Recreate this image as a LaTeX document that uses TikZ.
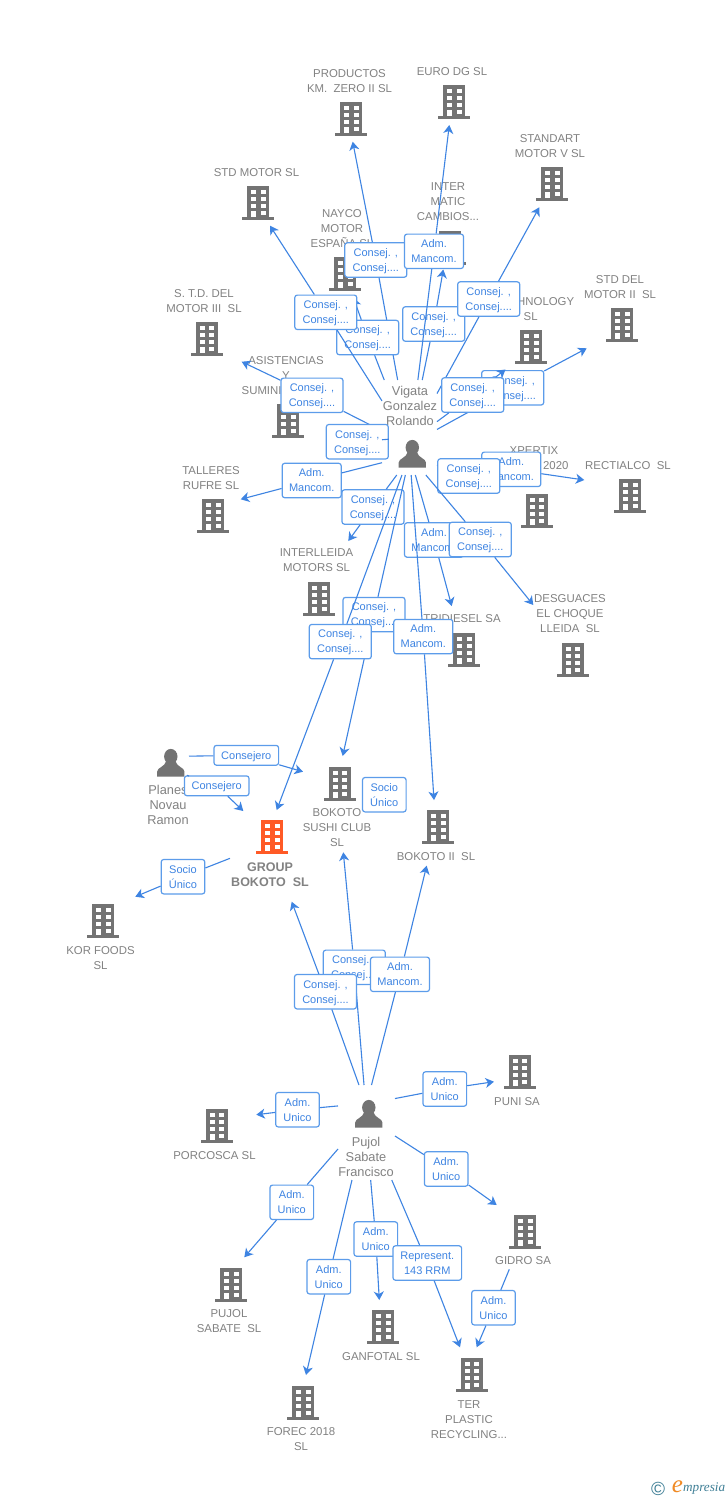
\documentclass[tikz,border=0pt]{standalone}
\usepackage{fontspec}
\setmainfont{Liberation Sans}
\newfontfamily\logofont{Liberation Serif}
\usetikzlibrary{arrows.meta}

\definecolor{icongray}{HTML}{737373}
\definecolor{textgray}{HTML}{828282}
\definecolor{mainorange}{HTML}{FF5A26}
\definecolor{linkblue}{HTML}{3E84E2}
\definecolor{boxblue}{HTML}{5C9CEA}
\definecolor{logoteal}{HTML}{3F7F96}
\definecolor{logoorange}{HTML}{F08A24}

\tikzset{
  company/.style={text=textgray, inner sep=0pt, yshift=-1pt, align=center, font=\fontsize{11.4}{15}\selectfont},
  personname/.style={text=textgray, inner sep=0pt, align=center, font=\fontsize{12.8}{15}\selectfont},
  personarea/.style={inner sep=0pt, outer sep=0pt},
  rolebox/.style={draw=boxblue, line width=1.2pt, rounded corners=2.5pt, fill=white, text=linkblue,
    inner sep=0pt, minimum height=34.4pt, text height=25pt, text depth=2.4pt, align=center, font=\fontsize{11}{15}\selectfont},
  consej/.style={rolebox, minimum width=62pt},
  mancom/.style={rolebox, minimum width=59pt},
  unico/.style={rolebox, minimum width=43.6pt},
  consejero/.style={rolebox, minimum width=64.6pt, minimum height=19.8pt, text height=10pt},
  link/.style={draw=linkblue, line width=1.1pt, -{Stealth[length=8.5pt,width=10pt,inset=2.5pt]}},
  plainlink/.style={draw=linkblue, line width=1.1pt},
  bldg/.pic={
    \fill[pic actions] (-11,0) rectangle (11,31);
    \fill[pic actions] (-16,31) rectangle (16,34);
    \foreach \wy in {4,11,18} {
      \fill[white] (-7,\wy) rectangle (-2,\wy+4);
      \fill[white] (2.5,\wy) rectangle (7.5,\wy+4);
    }
    \fill[white] (-7,25) rectangle (-2,31);
    \fill[white] (2.5,25) rectangle (7.5,29);
  },
  person/.pic={
    \fill[icongray] (0,7.5) ellipse (6.7 and 7.6);
    \fill[icongray] (-13.6,27.7) -- (-13.6,22.5) .. controls (-13.6,18.5) and (-6,18) .. (-4.5,12)
      -- (4.5,12) .. controls (6,18) and (13.6,18.5) .. (13.6,22.5) -- (13.6,27.7) -- cycle;
  },
}

\begin{document}
\begin{tikzpicture}[x=1pt,y=-1pt]
  \useasboundingbox (0,0) rectangle (728,1500);
  \fill[white] (0,0) rectangle (728,1500);

  % Companies - icon and name
  \pic[icongray] at (351,102) {bldg};
  \node[company] (productos) at (349.5,80.5) {PRODUCTOS\\KM.~ ZERO II SL};
  \pic[icongray] at (454,85) {bldg};
  \node[company] (euro) at (452,71) {EURO DG SL};
  \pic[icongray] at (552,166.7) {bldg};
  \node[company] (standart) at (550,145.5) {STANDART\\MOTOR V SL};
  \pic[icongray] at (258,186) {bldg};
  \node[company] (stdmotor) at (256.5,172) {STD MOTOR SL};
  \pic[icongray] at (450,231) {bldg};
  \node[company] (inter) at (448,201) {INTER\\MATIC\\CAMBIOS...};
  \pic[icongray] at (345,256.7) {bldg};
  \node[company] (nayco) at (342,228) {NAYCO\\MOTOR\\ESPAÑA SL};
  \pic[icongray] at (206.7,322) {bldg};
  \node[company] (stdthree) at (204,300.5) {S. T.D. DEL\\MOTOR III~ SL};
  \pic[icongray] at (531,330) {bldg};
  \node[company] (technology) at (530.7,308.5) {\hspace*{30pt}HNOLOGY\\SL};
  \pic[icongray] at (622,308) {bldg};
  \node[company] (stdtwo) at (620,286.5) {STD DEL\\MOTOR II~ SL};
  \pic[icongray] at (288,404) {bldg};
  \node[company] (asistencias) at (286,375) {ASISTENCIAS\\Y\\SUMINI\phantom{STROS...}};
  \pic[icongray] at (213,499) {bldg};
  \node[company] (talleres) at (211,477.5) {TALLERES\\RUFRE SL};
  \pic[icongray] at (319,581.7) {bldg};
  \node[company] (interlleida) at (316.5,559.5) {INTERLLEIDA\\MOTORS SL};
  \pic[icongray] at (536.5,494) {bldg};
  \node[company] (xpertix) at (534,457.5) {XPERTIX\\\hspace*{43.5pt}2020};
  \pic[icongray] at (630,479) {bldg};
  \node[company] (rectialco) at (628,465) {RECTIALCO~ SL};
  \pic[icongray] at (464,632.7) {bldg};
  \node[company] (tridiesel) at (462,618) {TRIDIESEL SA};
  \pic[icongray] at (572.5,642.7) {bldg};
  \node[company] (desguaces) at (570,613) {DESGUACES\\EL CHOQUE\\LLEIDA~ SL};
  \pic[icongray] at (339.5,766.7) {bldg};
  \node[company] (sushi) at (337,827) {BOKOTO\\SUSHI CLUB\\SL};
  \pic[icongray] at (438,810) {bldg};
  \node[company] (bokototwo) at (436,856) {BOKOTO II~ SL};
  \pic[mainorange] at (272,820) {bldg};
  \node[company, font=\fontsize{12.5}{15}\selectfont\bfseries] (group) at (270,873.5) {GROUP\\BOKOTO~ SL};
  \pic[icongray] at (103,904) {bldg};
  \node[company] (kor) at (100.5,957.5) {KOR FOODS\\SL};
  \pic[icongray] at (519.5,1055) {bldg};
  \node[company] (puni) at (517,1101) {PUNI SA};
  \pic[icongray] at (216.8,1109) {bldg};
  \node[company] (porcosca) at (214.5,1155) {PORCOSCA SL};
  \pic[icongray] at (231,1267.7) {bldg};
  \node[company] (pujolsl) at (229,1320.5) {PUJOL\\SABATE~ SL};
  \pic[icongray] at (383,1310) {bldg};
  \node[company] (ganfotal) at (381,1356) {GANFOTAL SL};
  \pic[icongray] at (303,1385.7) {bldg};
  \node[company] (forec) at (301,1438.5) {FOREC 2018\\SL};
  \pic[icongray] at (471.5,1358) {bldg};
  \node[company] (ter) at (469,1419) {TER\\PLASTIC\\RECYCLING...};
  \pic[icongray] at (525,1214.7) {bldg};
  \node[company] (gidro) at (523,1260) {GIDRO SA};

  % People - icon and name
  \pic at (412.3,440) {person};
  \node[personname] (vigataname) at (410,406) {Vigata\\Gonzalez\\Rolando};
  \node[personarea, minimum width=55pt, minimum height=95pt] (vigata) at (409.5,427.5) {};
  \pic at (170.8,749) {person};
  \node[personname] (planesname) at (168,805) {Planes\\Novau\\Ramon};
  \node[personarea, minimum width=36pt, minimum height=28pt] (planes) at (171,762) {};
  \pic at (368.8,1100) {person};
  \node[personname] (pujolname) at (366,1156.5) {Pujol\\Sabate\\Francisco};
  \node[personarea, minimum width=57pt, minimum height=95pt] (pujol) at (366.5,1132.5) {};

  % Arrow ends next to the companies
  \coordinate (tipproductos) at (352.7,141.7);
  \coordinate (tipeuro) at (449.3,125);
  \coordinate (tipstandart) at (539.3,207.3);
  \coordinate (tipstdmotor) at (270,225.7);
  \coordinate (tipinter) at (443.3,269.5);
  \coordinate (tipnayco) at (353.5,298);
  \coordinate (tipstdthree) at (241.7,361.7);
  \coordinate (tiptechnology) at (505.5,369.5);
  \coordinate (tipstdtwo) at (586.7,348.3);
  \coordinate (tiptalleres) at (240.7,499.3);
  \coordinate (tipinterlleida) at (348.3,541);
  \coordinate (tiprectialco) at (584.3,480);
  \coordinate (tiptridiesel) at (451.7,606);
  \coordinate (tipdesguaces) at (533.3,605);
  \coordinate (tipsushitop) at (342.7,756);
  \coordinate (tipbokototop) at (434,800);
  \coordinate (tipgrouptop) at (276.7,810);
  \coordinate (tipplanessushi) at (303,771.7);
  \coordinate (tipplanesgroup) at (243.3,811);
  \coordinate (tipkor) at (135.3,896.7);
  \coordinate (tipgroupdown) at (291.7,901.7);
  \coordinate (tipsushidown) at (343.3,852.3);
  \coordinate (tipbokotodown) at (426.7,865.7);
  \coordinate (tippuni) at (494,1081.7);
  \coordinate (tipporcosca) at (256.3,1114.7);
  \coordinate (tipgidro) at (496.7,1205);
  \coordinate (tippujolsl) at (244.3,1257.3);
  \coordinate (tipforec) at (306,1375);
  \coordinate (tipganfotal) at (379.3,1300);
  \coordinate (tipterone) at (460,1347.3);
  \coordinate (tiptertwo) at (476.7,1347.3);
  \coordinate (gidrofoot) at (509.3,1269.3);
  \coordinate (groupside) at (230,858.3);

  % Vigata Gonzalez Rolando - upper side
  \node[consej] (rproductos) at (375.8,260) {Consej. ,\\Consej....};
  \draw[link] (vigata.104) -- (rproductos) -- (tipproductos);
  \node[consej] (rinter) at (433.7,324) {Consej. ,\\Consej....};
  \draw[link] (vigata.75) -- (rinter) -- (tipinter);
  \node[mancom] (reuro) at (434,251.3) {Adm.~\\Mancom.};
  \draw[link] (vigata.80) -- (reuro) -- (tipeuro);
  \node[consej] (rnayco) at (367.7,337.5) {Consej. ,\\Consej....};
  \draw[link] (vigata.118) -- (rnayco) -- (tipnayco);
  \node[consej] (rstdmotor) at (325.8,312.3) {Consej. ,\\Consej....};
  \draw[link] (vigata.136) -- (rstdmotor) -- (tipstdmotor);
  \node[consej] (rstandart) at (488.7,299) {Consej. ,\\Consej....};
  \draw[link] (vigata.51) -- (rstandart) -- (tipstandart);
  \node[consej] (rstdtwo) at (512.7,387.8) {Consej. ,\\Consej....};
  \draw[link] (vigata.-4) -- (rstdtwo) -- (tipstdtwo);
  \node[consej] (rtechnology) at (472.7,395) {Consej. ,\\Consej....};
  \draw[link] (vigata.12) -- (rtechnology) -- (tiptechnology);
  \node[consej] (rstdthree) at (312,395.3) {Consej. ,\\Consej....};
  \draw[link] (vigata.187) -- (rstdthree) -- (tipstdthree);
  \node[consej] (rasistencias) at (357.3,441.7) {Consej. ,\\Consej....};
  \draw[plainlink] (vigata.204) -- (rasistencias);

  % Vigata Gonzalez Rolando - lower side
  \node[mancom] (rtalleres) at (311.7,480.5) {Adm.~\\Mancom.};
  \draw[link] (vigata.232) -- (rtalleres) -- (tiptalleres);
  \node[mancom] (rrectialco) at (511.3,469.3) {Adm.~\\Mancom.};
  \draw[link] (vigata.303) -- (rrectialco) -- (tiprectialco);
  \node[consej] (rxpertix) at (468.8,476) {Consej. ,\\Consej....};
  \draw[plainlink] (vigata.306) -- (rxpertix);
  \node[consej] (rinterlleida) at (373,507) {Consej. ,\\Consej....};
  \draw[link] (vigata.255) -- (rinterlleida) -- (tipinterlleida);
  \node[mancom] (rtridiesel) at (434,540) {Adm.~\\Mancom.};
  \draw[link] (vigata.277) -- (rtridiesel) -- (tiptridiesel);
  \node[consej] (rdesguaces) at (480.3,539.5) {Consej. ,\\Consej....};
  \draw[link] (vigata.289) -- (rdesguaces) -- (tipdesguaces);
  \node[consej] (rsushitop) at (374,614.6) {Consej. ,\\Consej....};
  \draw[link] (vigata.265) -- (rsushitop) -- (tipsushitop);
  \node[consej] (rgrouptop) at (340.3,641.6) {Consej. ,\\Consej....};
  \draw[link] (vigata.261) -- (rgrouptop) -- (tipgrouptop);
  \node[mancom] (rbokototop) at (423.3,636.6) {Adm.~\\Mancom.};
  \draw[link] (vigata.272) -- (rbokototop) -- (tipbokototop);

  % Planes Novau Ramon and Group Bokoto
  \node[consejero] (rplanessushi) at (246.3,755.3) {Consejero};
  \draw[link] (planes.18) -- (rplanessushi) -- (tipplanessushi);
  \node[consejero] (rplanesgroup) at (216.7,785.8) {Consejero};
  \draw[link] (planes.south east) -- (rplanesgroup) -- (tipplanesgroup);
  \node[unico] (rsocio) at (384.3,794.7) {Socio\\Único};
  \node[unico] (rkor) at (183,876.7) {Socio\\Único};
  \draw[link] (groupside) -- (rkor) -- (tipkor);

  % Pujol Sabate Francisco - upper side
  \node[consej] (rsushidown) at (354.3,967.3) {Consej. ,\\Consej....};
  \draw[link] (pujol.93) -- (rsushidown) -- (tipsushidown);
  \node[consej] (rgroupdown) at (325.5,991.7) {Consej. ,\\Consej....};
  \draw[link] (pujol.99) -- (rgroupdown) -- (tipgroupdown);
  \node[mancom] (rbokotodown) at (400,974.3) {Adm.~\\Mancom.};
  \draw[link] (pujol.84) -- (rbokotodown) -- (tipbokotodown);

  % Pujol Sabate Francisco - the rest
  \node[unico] (rpuni) at (444.8,1089) {Adm.~\\Unico};
  \draw[link] (pujol.50) -- (rpuni) -- (tippuni);
  \node[unico] (rporcosca) at (297.5,1109.7) {Adm.~\\Unico};
  \draw[link] (pujol.137) -- (rporcosca) -- (tipporcosca);
  \node[unico] (rgidro) at (446.2,1169) {Adm.~\\Unico};
  \draw[link] (pujol.-7) -- (rgidro) -- (tipgidro);
  \node[unico] (rpujolsl) at (291.8,1202.3) {Adm.~\\Unico};
  \draw[link] (pujol.210) -- (rpujolsl) -- (tippujolsl);
  \node[unico] (rganfotal) at (375.8,1239) {Adm.~\\Unico};
  \draw[link] (pujol.275) -- (rganfotal) -- (tipganfotal);
  \node[rolebox, minimum width=68.6pt] (rterone) at (427.3,1263) {Represent.\\143 RRM};
  \draw[link] (pujol.298) -- (rterone) -- (tipterone);
  \node[unico] (rforec) at (328.8,1276.7) {Adm.~\\Unico};
  \draw[link] (pujol.253) -- (rforec) -- (tipforec);
  \node[unico] (rtertwo) at (493.5,1307.7) {Adm.~\\Unico};
  \draw[link] (gidrofoot) -- (rtertwo) -- (tiptertwo);

  % Logo
  \node[inner sep=0pt, text=logoteal, font=\fontsize{19}{19}\selectfont] (logomark) at (658,1489) {©};
  \node[inner sep=0pt, text=logoorange, font=\logofont\itshape\fontsize{25}{25}\selectfont] (logoe) at (677.5,1486.5) {e};
  \node[inner sep=0pt, text=logoteal, anchor=west, font=\logofont\itshape\fontsize{13.2}{13.2}\selectfont] (logoname) at (683,1489) {mpresia};
\end{tikzpicture}
\end{document}
